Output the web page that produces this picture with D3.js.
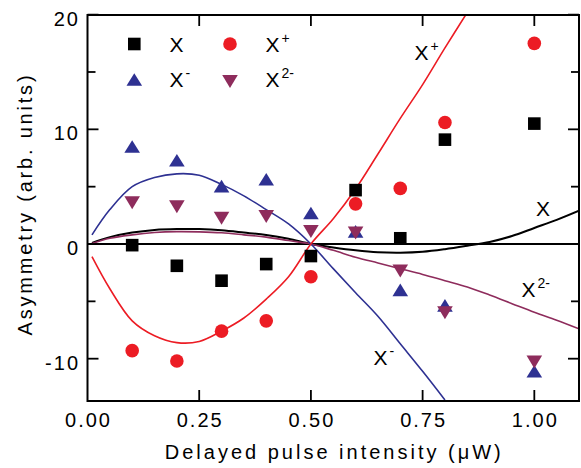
<!DOCTYPE html>
<html>
<head>
<meta charset="utf-8">
<script src="https://cdn.jsdelivr.net/npm/d3@7"></script>
<style>
  body { margin: 0; background: #fff; }
  svg text { font-family: "Liberation Sans", Arial, Helvetica, sans-serif; fill: #000; }
</style>
</head>
<body>
<svg id="chart" width="581" height="468"></svg>
<script>
// Measured asymmetry versus delayed pulse intensity
const pulse = [0.1, 0.2, 0.3, 0.4, 0.5, 0.6, 0.7, 0.8, 1.0];
const asymX      = [-0.1, -1.9, -3.2, -1.75, -1.05, 4.7, 0.5, 9.1, 10.5];
const asymXplus  = [-9.3, -10.2, -7.6, -6.7, -2.85, 3.5, 4.85, 10.6, 17.5];
const asymXminus = [8.5, 7.3, 5.05, 5.65, 2.7, 1.1, -4.0, -5.35, -11.1];
const asymX2minus = [3.6, 3.25, 2.25, 2.4, 1.1, 0.95, -2.35, -6.0, -10.3];

// Model curves
const fitPulse = [0.01, 0.05, 0.1, 0.15, 0.2, 0.25, 0.3, 0.35, 0.4, 0.45, 0.5,
                  0.55, 0.6, 0.65, 0.7, 0.75, 0.8, 0.85, 0.9, 0.95, 1.0, 1.05, 1.1];
const fitX       = [0.1, 0.6, 1.0, 1.23, 1.31, 1.3, 1.2, 1.0, 0.78, 0.45, 0.0,
                    -0.3, -0.55, -0.72, -0.76, -0.68, -0.45, -0.15, 0.18, 0.7, 1.4, 2.1, 2.9];
const fitX2minus = [0.05, 0.5, 0.8, 1.0, 1.08, 1.06, 0.98, 0.8, 0.6, 0.3, 0.0,
                    -0.55, -1.15, -1.65, -2.15, -2.65, -3.2, -3.75, -4.45, -5.2, -5.95, -6.65, -7.4];
const fitXminus  = [0.8, 3.0, 5.0, 5.8, 6.12, 6.0, 5.2, 4.2, 3.0, 1.75, 0.0,
                    -2.15, -4.25, -6.3, -8.7, -11.1, -13.6];
const fitXplus   = [-1.1, -3.9, -6.7, -8.0, -8.6, -8.5, -7.6, -6.45, -4.8, -2.85, 0.0,
                    2.2, 4.8, 7.85, 10.95, 13.9, 17.1, 20.2];

const xTicks = [0, 0.25, 0.5, 0.75, 1.0];
const xTickLabels = ["0.00", "0.25", "0.50", "0.75", "1.00"];
const yTicks = [-10, 0, 10, 20];
const yMinorTicks = [-5, 5, 15];

const colors = { X: "#000000", Xplus: "#ec1c24", Xminus: "#2e3192", X2minus: "#8e2c5c" };

const svg = d3.select("#chart");
const plotLeft = 87.5, plotRight = 579, plotTop = 15, plotBottom = 401;

const x = d3.scaleLinear().domain([0, 1.1]).range([plotLeft, plotRight]);
const y = d3.scaleLinear().domain([-13.69, 19.97]).range([plotBottom, plotTop]);

svg.append("defs").append("clipPath").attr("id", "plotClip")
  .append("rect").attr("x", plotLeft).attr("y", plotTop)
  .attr("width", plotRight - plotLeft).attr("height", plotBottom - plotTop);

const plot = svg.append("g").attr("clip-path", "url(#plotClip)");

// zero reference line
plot.append("line")
  .attr("x1", x(0)).attr("x2", x(1.1))
  .attr("y1", y(0)).attr("y2", y(0))
  .attr("stroke", "#000").attr("stroke-width", 2);

const line = d3.line()
  .x(d => x(d[0])).y(d => y(d[1]))
  .curve(d3.curveCatmullRom.alpha(0.5));

const curves = [
  { vals: fitX, color: colors.X, w: 2 },
  { vals: fitX2minus, color: colors.X2minus, w: 1.6 },
  { vals: fitXminus, color: colors.Xminus, w: 1.6 },
  { vals: fitXplus, color: colors.Xplus, w: 1.6 }
];
curves.forEach(c => {
  plot.append("path")
    .datum(c.vals.map((v, i) => [fitPulse[i], v]))
    .attr("d", line)
    .attr("fill", "none")
    .attr("stroke", c.color)
    .attr("stroke-width", c.w);
});

// marker shapes centred on their bounding box
function tri(cx, cy, w, h, down) {
  const s = down ? -1 : 1;
  return `M${cx},${cy - s * h / 2}L${cx + w / 2},${cy + s * h / 2}L${cx - w / 2},${cy + s * h / 2}Z`;
}
function drawMarkers(g, vals, kind, color) {
  vals.forEach((v, i) => {
    const cx = x(pulse[i]), cy = y(v);
    if (kind === "square") {
      g.append("rect").attr("x", cx - 6.3).attr("y", cy - 6.3)
        .attr("width", 12.6).attr("height", 12.6).attr("fill", color);
    } else if (kind === "circle") {
      g.append("circle").attr("cx", cx).attr("cy", cy).attr("r", 6.8).attr("fill", color);
    } else {
      g.append("path").attr("d", tri(cx, cy, 15.6, kind === "up" ? 12.6 : 13, kind === "down"))
        .attr("fill", color);
    }
  });
}
const marks = svg.append("g");
drawMarkers(marks, asymXplus, "circle", colors.Xplus);
drawMarkers(marks, asymX, "square", colors.X);
drawMarkers(marks, asymXminus, "up", colors.Xminus);
drawMarkers(marks, asymX2minus, "down", colors.X2minus);

// frame
svg.append("rect").attr("x", plotLeft).attr("y", plotTop)
  .attr("width", plotRight - plotLeft).attr("height", plotBottom - plotTop)
  .attr("fill", "none").attr("stroke", "#000").attr("stroke-width", 2);

const ticks = svg.append("g").attr("stroke", "#000").attr("stroke-width", 1.8);
xTicks.slice(1).forEach(t => {
  ticks.append("line").attr("x1", x(t)).attr("x2", x(t)).attr("y1", plotBottom).attr("y2", plotBottom - 11);
  ticks.append("line").attr("x1", x(t)).attr("x2", x(t)).attr("y1", plotTop).attr("y2", plotTop + 11);
});
yTicks.forEach(t => {
  ticks.append("line").attr("x1", plotLeft).attr("x2", plotLeft + 11).attr("y1", y(t)).attr("y2", y(t));
  ticks.append("line").attr("x1", plotRight).attr("x2", plotRight - 11).attr("y1", y(t)).attr("y2", y(t));
});
yMinorTicks.forEach(t => {
  ticks.append("line").attr("x1", plotLeft).attr("x2", plotLeft + 8).attr("y1", y(t)).attr("y2", y(t));
  ticks.append("line").attr("x1", plotRight).attr("x2", plotRight - 8).attr("y1", y(t)).attr("y2", y(t));
});

// tick labels
xTicks.forEach((t, i) => {
  svg.append("text").attr("x", x(t) + 1).attr("y", 427)
    .attr("text-anchor", "middle").attr("font-size", 20).attr("letter-spacing", 2)
    .text(xTickLabels[i]);
});
yTicks.forEach(t => {
  svg.append("text").attr("x", 80).attr("y", y(t) + 11)
    .attr("text-anchor", "end").attr("font-size", 20).attr("letter-spacing", 2)
    .text(String(t));
});

// axis titles
svg.append("text").attr("x", (plotLeft + plotRight) / 2 + 1).attr("y", 459)
  .attr("text-anchor", "middle").attr("font-size", 20).attr("letter-spacing", 3)
  .text("Delayed pulse intensity (\u03BCW)");
svg.append("text")
  .attr("transform", `translate(32,${(plotTop + plotBottom) / 2 - 4}) rotate(-90)`)
  .attr("text-anchor", "middle").attr("font-size", 20).attr("letter-spacing", 2.8)
  .text("Asymmetry (arb. units)");

// labelled text with optional superscript
function label(px, py, base, sup, size) {
  const t = svg.append("text").attr("x", px).attr("y", py).attr("font-size", size || 21);
  t.append("tspan").text(base);
  if (sup) t.append("tspan").attr("dx", 2).attr("dy", -9).attr("font-size", 14).text(sup);
}

// legend
const legendSyms = svg.append("g");
legendSyms.append("rect").attr("x", 134.3 - 6.3).attr("y", 44 - 6.3).attr("width", 12.6).attr("height", 12.6).attr("fill", colors.X);
legendSyms.append("circle").attr("cx", 230).attr("cy", 44).attr("r", 6.8).attr("fill", colors.Xplus);
legendSyms.append("path").attr("d", tri(134.3, 79.5, 15.6, 12.6, false)).attr("fill", colors.Xminus);
legendSyms.append("path").attr("d", tri(230, 81.5, 15.6, 13, true)).attr("fill", colors.X2minus);
label(169.5, 51.7, "X", "");
label(265.5, 51.7, "X", "+");
label(169.5, 87, "X", "-");
label(265.5, 87, "X", "2-");

// curve labels
label(414.5, 60, "X", "+");
label(536, 216, "X", "");
label(521.5, 297, "X", "2-");
label(373.5, 365, "X", "-");
</script>
</body>
</html>
